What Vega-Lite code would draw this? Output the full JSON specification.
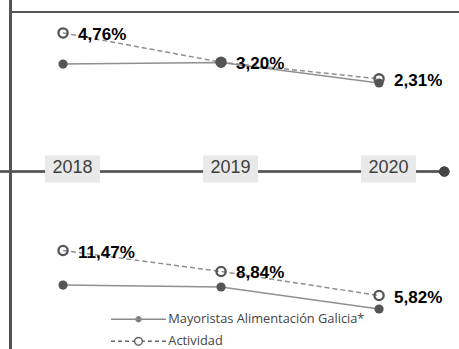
{
  "$schema": "https://vega.github.io/schema/vega-lite/v6.json",
  "width": 459,
  "height": 349,
  "padding": 0,
  "autosize": {"type": "none"},
  "background": "white",
  "config": {
    "view": {"stroke": null},
    "locale": {"number": {"decimal": ",", "thousands": ".", "grouping": [3], "currency": ["", " €"]}}
  },
  "data": {"values": [
    {"panel": "superior", "serie": "Mayoristas Alimentación Galicia*", "year": 2018, "value": 0.0310},
    {"panel": "superior", "serie": "Mayoristas Alimentación Galicia*", "year": 2019, "value": 0.0318},
    {"panel": "superior", "serie": "Mayoristas Alimentación Galicia*", "year": 2020, "value": 0.0209},
    {"panel": "superior", "serie": "Actividad", "year": 2018, "value": 0.0476},
    {"panel": "superior", "serie": "Actividad", "year": 2019, "value": 0.0320},
    {"panel": "superior", "serie": "Actividad", "year": 2020, "value": 0.0231},
    {"panel": "inferior", "serie": "Mayoristas Alimentación Galicia*", "year": 2018, "value": 0.0714},
    {"panel": "inferior", "serie": "Mayoristas Alimentación Galicia*", "year": 2019, "value": 0.0689},
    {"panel": "inferior", "serie": "Mayoristas Alimentación Galicia*", "year": 2020, "value": 0.0413},
    {"panel": "inferior", "serie": "Actividad", "year": 2018, "value": 0.1147},
    {"panel": "inferior", "serie": "Actividad", "year": 2019, "value": 0.0884},
    {"panel": "inferior", "serie": "Actividad", "year": 2020, "value": 0.0582}
  ]},
  "encoding": {
    "x": {"field": "year", "type": "quantitative", "scale": {"domain": [2017.601, 2020.506], "nice": false, "zero": false}, "axis": null}
  },
  "resolve": {"scale": {"y": "independent"}},
  "layer": [
    {
      "transform": [{"filter": "datum.panel === 'superior' && datum.serie === 'Actividad'"}],
      "layer": [
        {
          "mark": {"type": "rule", "color": "#555555", "strokeWidth": 2, "yOffset": -3},
          "encoding": {"x": {"datum": 2017.601}, "x2": {"datum": 2020.413}}
        },
        {
          "mark": {"type": "point", "filled": true, "shape": "circle", "color": "#444444", "size": 105, "opacity": 1, "yOffset": -3},
          "encoding": {"x": {"datum": 2020.413}}
        },
        {
          "mark": {"type": "point", "filled": true, "shape": "M-1,-0.49H1V0.49H-1Z", "color": "#e9e9e9", "size": 3025, "opacity": 1, "xOffset": 9.5, "yOffset": -5.5}
        },
        {
          "mark": {"type": "text", "align": "center", "baseline": "middle", "dx": 9.5, "dy": -6.5, "font": "Liberation Sans", "fontSize": 18, "color": "#404040"},
          "encoding": {"text": {"field": "year", "type": "nominal"}}
        }
      ]
    },
    {
      "transform": [{"filter": "datum.panel === 'superior'"}],
      "encoding": {
        "y": {"field": "value", "type": "quantitative", "scale": {"domain": [-0.12097, 0.06516], "nice": false, "zero": false}, "axis": null}
      },
      "layer": [
        {
          "mark": {"type": "rule", "color": "#555555", "strokeWidth": 2, "strokeCap": "square"},
          "encoding": {"x": {"datum": 2017.668}, "y": {"datum": 0.05876}, "y2": {"datum": -0.12097}}
        },
        {
          "mark": {"type": "rule", "color": "#555555", "strokeWidth": 2, "strokeCap": "square"},
          "encoding": {"x": {"datum": 2017.668}, "x2": {"datum": 2020.506}, "y": {"datum": 0.05876}}
        },
        {
          "transform": [{"filter": "datum.serie !== 'Actividad'"}],
          "mark": {"type": "line", "color": "#8f8f8f", "strokeWidth": 1.5}
        },
        {
          "transform": [{"filter": "datum.serie === 'Actividad'"}],
          "mark": {"type": "line", "color": "#8f8f8f", "strokeWidth": 1.5, "strokeDash": [5, 3]}
        },
        {
          "transform": [{"filter": "datum.serie !== 'Actividad'"}],
          "mark": {"type": "point", "filled": true, "shape": "circle", "color": "#555555", "size": 85, "opacity": 1}
        },
        {
          "transform": [{"filter": "datum.serie === 'Actividad'"}],
          "mark": {"type": "point", "filled": false, "shape": "circle", "stroke": "#555555", "strokeWidth": 2.3, "size": 85, "opacity": 1}
        },
        {
          "transform": [{"filter": "datum.serie === 'Actividad'"}],
          "mark": {"type": "text", "align": "left", "baseline": "middle", "dx": 15, "dy": 2, "font": "Liberation Sans", "fontWeight": "bold", "fontSize": 17, "color": "#000000"},
          "encoding": {"text": {"field": "value", "type": "quantitative", "format": ".2%"}}
        }
      ]
    },
    {
      "transform": [{"filter": "datum.panel === 'inferior'"}],
      "encoding": {
        "y": {"field": "value", "type": "quantitative", "scale": {"domain": [-0.00888, 0.4290], "nice": false, "zero": false}, "axis": null}
      },
      "layer": [
        {
          "mark": {"type": "rule", "color": "#555555", "strokeWidth": 2},
          "encoding": {"x": {"datum": 2017.668}, "y": {"datum": 0.4290}, "y2": {"datum": -0.00888}}
        },
        {
          "transform": [{"filter": "datum.serie !== 'Actividad'"}],
          "mark": {"type": "line", "color": "#8f8f8f", "strokeWidth": 1.5}
        },
        {
          "transform": [{"filter": "datum.serie === 'Actividad'"}],
          "mark": {"type": "line", "color": "#8f8f8f", "strokeWidth": 1.5, "strokeDash": [5, 3]}
        },
        {
          "transform": [{"filter": "datum.serie !== 'Actividad'"}],
          "mark": {"type": "point", "filled": true, "shape": "circle", "color": "#555555", "size": 85, "opacity": 1}
        },
        {
          "transform": [{"filter": "datum.serie === 'Actividad'"}],
          "mark": {"type": "point", "filled": false, "shape": "circle", "stroke": "#555555", "strokeWidth": 2.3, "size": 85, "opacity": 1}
        },
        {
          "transform": [{"filter": "datum.serie === 'Actividad'"}],
          "mark": {"type": "text", "align": "left", "baseline": "middle", "dx": 15, "dy": 2, "font": "Liberation Sans", "fontWeight": "bold", "fontSize": 17, "color": "#000000"},
          "encoding": {"text": {"field": "value", "type": "quantitative", "format": ".2%"}}
        }
      ]
    },
    {
      "transform": [{"filter": "false"}],
      "mark": {"type": "point", "strokeWidth": 1.5},
      "encoding": {
        "x": {"datum": 2018},
        "shape": {"field": "serie", "type": "nominal",
          "scale": {"domain": ["Mayoristas Alimentación Galicia*", "Actividad"],
            "range": ["M-5,0H5M-0.45,0A0.45,0.45,0,1,0,0.45,0A0.45,0.45,0,1,0,-0.45,0Z", "M-5,0H-4.27M-3.72,0H-2.99M-2.44,0H-1.71M-1.16,0H-0.7M0.7,0H1.16M1.71,0H2.44M2.99,0H3.72M4.27,0H5M-0.7,0A0.7,0.7,0,1,0,0.7,0A0.7,0.7,0,1,0,-0.7,0Z"]},
          "legend": {
            "orient": "none", "legendX": 132, "legendY": 312.8, "title": null, "padding": 0,
            "symbolSize": 121, "symbolStrokeWidth": 1.5, "symbolOpacity": 1, "symbolOffset": 0, "labelOffset": 23.3,
            "rowPadding": 7, "labelFont": "Open Sans", "labelFontSize": 12.8, "labelColor": "#444444", "labelLimit": 400
          }
        },
        "fill": {"field": "serie", "type": "nominal",
          "scale": {"domain": ["Mayoristas Alimentación Galicia*", "Actividad"], "range": ["#666666", "#ffffff"]},
          "legend": {
            "orient": "none", "legendX": 132, "legendY": 312.8, "title": null, "padding": 0,
            "symbolSize": 121, "symbolStrokeWidth": 1.5, "symbolOpacity": 1, "symbolOffset": 0, "labelOffset": 23.3,
            "rowPadding": 7, "labelFont": "Open Sans", "labelFontSize": 12.8, "labelColor": "#444444", "labelLimit": 400
          }
        },
        "stroke": {"field": "serie", "type": "nominal",
          "scale": {"domain": ["Mayoristas Alimentación Galicia*", "Actividad"], "range": ["#8a8a8a", "#666666"]},
          "legend": {
            "orient": "none", "legendX": 132, "legendY": 312.8, "title": null, "padding": 0,
            "symbolSize": 121, "symbolStrokeWidth": 1.5, "symbolOpacity": 1, "symbolOffset": 0, "labelOffset": 23.3,
            "rowPadding": 7, "labelFont": "Open Sans", "labelFontSize": 12.8, "labelColor": "#444444", "labelLimit": 400
          }
        }
      }
    }
  ]
}
